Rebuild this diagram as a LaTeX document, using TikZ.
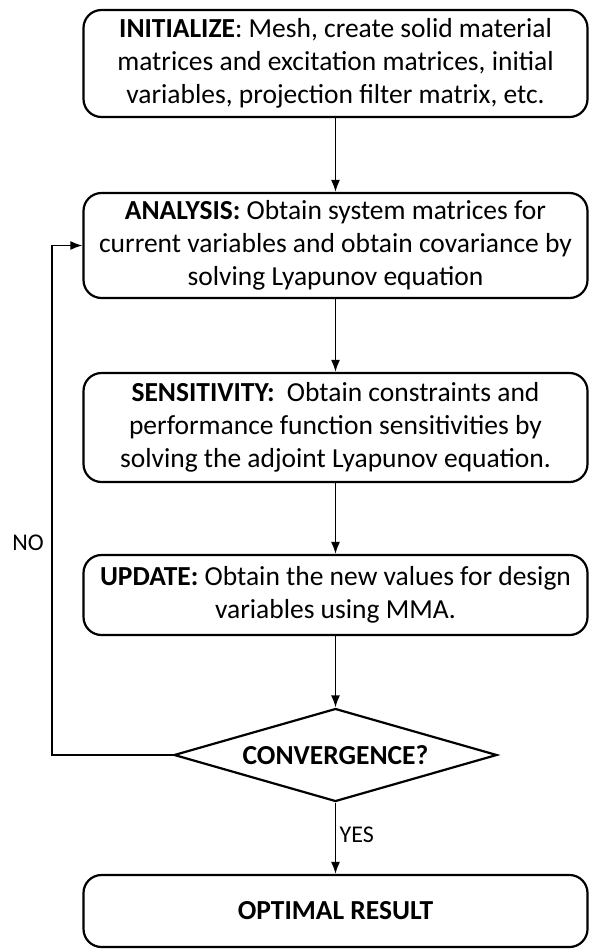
\documentclass[tikz,border=0pt]{standalone}
\usepackage{fontspec}
\setmainfont{Carlito}
\usetikzlibrary{arrows.meta,shapes.geometric}

\tikzset{
  flowbox/.style={draw,line width=2.2pt,rounded corners=18pt,align=center,
    minimum width=504pt,inner sep=0pt,font=\fontsize{27.5}{33}\selectfont},
  decision/.style={draw,line width=2.2pt,diamond,aspect=3.47,inner sep=0pt,
    minimum width=323pt,minimum height=93pt,font=\fontsize{27.5}{33}\selectfont},
  flowarrow/.style={-{Latex[length=12pt,width=9pt]},line width=1.6pt}
}

\begin{document}
\begin{tikzpicture}[x=1pt,y=1pt]
  \useasboundingbox (0,0) rectangle (589,-951);

  \node[flowbox,minimum height=107pt] (init) at (335.5,-63.5)
    {\textbf{INITIALIZE}: Mesh, create solid material\\
     matrices and excitation matrices, initial\\
     variables, projection filter matrix, etc.};
  \node[flowbox,minimum height=105pt] (ana) at (335.5,-245.5)
    {\textbf{ANALYSIS:} Obtain system matrices for\\
     current variables and obtain covariance by\\
     solving Lyapunov equation};
  \node[flowbox,minimum height=109pt] (sens) at (335.5,-427.5)
    {\textbf{SENSITIVITY:}\ \ Obtain constraints and\\
     performance function sensitivities by\\
     solving the adjoint Lyapunov equation.};
  \node[flowbox,minimum height=80pt] (upd) at (335.5,-595)
    {\textbf{UPDATE:} Obtain the new values for design\\
     variables using MMA.};
  \node[decision] (conv) at (335.5,-755) {\textbf{CONVERGENCE?}};
  \node[flowbox,minimum height=72pt] (opt) at (335.5,-911)
    {\textbf{OPTIMAL RESULT}};

  % connectors
  \draw[flowarrow] (init) -- (ana);
  \draw[flowarrow] (ana) -- (sens);
  \draw[flowarrow] (sens) -- (upd);
  \draw[flowarrow] (upd) -- (conv);
  \draw[flowarrow] (conv) -- (opt)
    node[pos=0.45,right,font=\fontsize{24}{28}\selectfont] (yes) {YES};

  \coordinate (nocorner) at (52,-755);
  \draw[flowarrow] (conv.west) -- (nocorner) |- (ana.west);
  \node[font=\fontsize{24}{28}\selectfont] (no) at (28,-543) {NO};
\end{tikzpicture}
\end{document}
